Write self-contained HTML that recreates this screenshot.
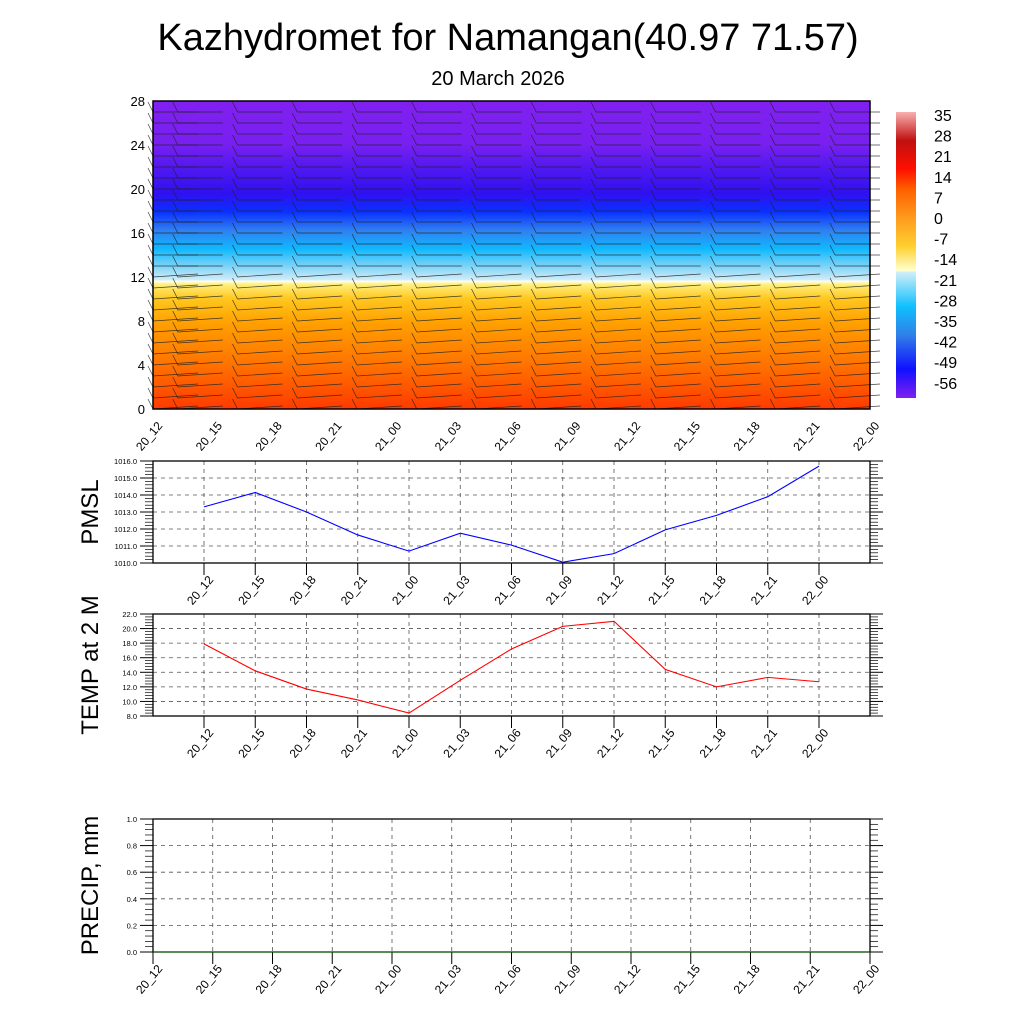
<!DOCTYPE html>
<html><head><meta charset="utf-8">
<style>
body{margin:0;background:#fff;}
svg{display:block;font-family:"Liberation Sans",sans-serif;}
</style></head>
<body>
<svg id="c" width="1024" height="1024" viewBox="0 0 1024 1024">
<defs>
<linearGradient id="tg" x1="0" y1="1" x2="0" y2="0">
<stop offset="0" stop-color="#ff3a00"/>
<stop offset="0.08" stop-color="#ff5a00"/>
<stop offset="0.16" stop-color="#ff7800"/>
<stop offset="0.28" stop-color="#ffa000"/>
<stop offset="0.36" stop-color="#ffc820"/>
<stop offset="0.405" stop-color="#fff080"/>
<stop offset="0.415" stop-color="#fffff0"/>
<stop offset="0.42" stop-color="#d0ecf8"/>
<stop offset="0.47" stop-color="#70d0f8"/>
<stop offset="0.52" stop-color="#10b8ff"/>
<stop offset="0.58" stop-color="#3080f0"/>
<stop offset="0.64" stop-color="#0a30ff"/>
<stop offset="0.70" stop-color="#3010f0"/>
<stop offset="0.78" stop-color="#5018f0"/>
<stop offset="0.86" stop-color="#7820f0"/>
<stop offset="1" stop-color="#8020f0"/>
</linearGradient>
<linearGradient id="cb" x1="0" y1="0" x2="0" y2="1">
<stop offset="0" stop-color="#f8b0b0"/>
<stop offset="0.1" stop-color="#c01010"/>
<stop offset="0.2" stop-color="#ff1000"/>
<stop offset="0.27" stop-color="#ff6000"/>
<stop offset="0.38" stop-color="#ffa020"/>
<stop offset="0.47" stop-color="#ffd030"/>
<stop offset="0.555" stop-color="#ffffd0"/>
<stop offset="0.56" stop-color="#d0eef8"/>
<stop offset="0.68" stop-color="#10c0ff"/>
<stop offset="0.78" stop-color="#3080e8"/>
<stop offset="0.9" stop-color="#1010ff"/>
<stop offset="1" stop-color="#8020f0"/>
</linearGradient>
</defs>
<text x="508" y="50" font-size="38" text-anchor="middle">Kazhydromet for Namangan(40.97 71.57)</text>
<text x="498" y="85" font-size="20" text-anchor="middle">20 March 2026</text>
<rect x="153" y="101" width="717" height="308" fill="url(#tg)"/>
<g id="barbs" stroke="#222" stroke-width="0.7" stroke-opacity="0.85"></g>
<rect x="153" y="101" width="717" height="308" fill="none" stroke="#000" stroke-width="1.5"/>
<rect x="896" y="112" width="20" height="286" fill="url(#cb)"/>
<g id="cbl" font-size="16"></g>
<g id="g"></g>
</svg>
<script>
const times=["20_12","20_15","20_18","20_21","21_00","21_03","21_06","21_09","21_12","21_15","21_18","21_21","22_00"];
const heightTicks=[0,4,8,12,16,20,24,28];
const colorbarLabels=["35","28","21","14","7","0","-7","-14","-21","-28","-35","-42","-49","-56"];
const pmsl=[1013.3,1014.15,1013.0,1011.65,1010.7,1011.75,1011.05,1010.05,1010.55,1011.95,1012.8,1013.9,1015.7];
const temp2m=[17.9,14.2,11.7,10.2,8.4,12.9,17.2,20.3,21.0,14.4,12.0,13.3,12.7];
const precip=[0,0,0,0,0,0,0,0,0,0,0,0,0];
const pmslTicks=[1010,1011,1012,1013,1014,1015,1016];
const tempTicks=[8,10,12,14,16,18,20,22];
const precipTicks=[0,0.2,0.4,0.6,0.8,1.0];
const windLevels=[0,1,2,3,4,5,6,7,8,9,10,11,12,13,14,15,16,17,18,19,20,21,22,23,24,25,26,27];

const NS="http://www.w3.org/2000/svg";
const G=document.getElementById('g');
function mk(tag,at,parent){const e=document.createElementNS(NS,tag);for(const k in at)e.setAttribute(k,at[k]);(parent||G).appendChild(e);return e;}
function txt(x,y,s,size,anchor,rot){const t=mk('text',{x:x,y:y,'font-size':size,'text-anchor':anchor||'middle'});if(rot)t.setAttribute('transform',`rotate(${rot} ${x} ${y})`);t.textContent=s;return t;}

const xs=i=>153+i*(717/12);
const ys=h=>409-h*(308/28);
heightTicks.forEach(h=>{const t=txt(145,ys(h)+5,String(h),13,'end');

});
times.forEach((s,i)=>{const x=xs(i);const t=txt(x+10,426,s,12,'end',-50);

});
const B=document.getElementById('barbs');
times.forEach((s,i)=>{const x=xs(i);windLevels.forEach(h=>{
 const y=ys(h);const x0=i?x-35:x;const x1=i?x+10:x+45;
 const l=mk('line',{x1:x0,y1:y,x2:x1,y2:y-(h>12?0:3)},B);
 
 
 const b=mk('line',{x1:x0,y1:y,x2:x0-5,y2:y-10},B);
 
 });});
const CL=document.getElementById('cbl');
colorbarLabels.forEach((s,i)=>{const t=mk('text',{x:934,y:121+i*20.6},CL);t.textContent=s;

});

function panel(name,top,bot,ticks,vals,color,ytitle,xf,n,labY,fmt){
 const lo=ticks[0],hi=ticks[ticks.length-1];
 const y=v=>bot-(v-lo)/(hi-lo)*(bot-top);
 const g=mk('g',{});
 ticks.forEach(v=>{mk('line',{x1:153,x2:870,y1:y(v),y2:y(v),stroke:'#555','stroke-dasharray':'4 4','stroke-width':0.8},g);
  const t=mk('text',{x:137,y:y(v)+3,'font-size':7.5,'text-anchor':'end'},g);t.textContent=fmt(v);
  
  mk('line',{x1:140,x2:153,y1:y(v),y2:y(v),stroke:'#000'},g);mk('line',{x1:870,x2:883,y1:y(v),y2:y(v),stroke:'#000'},g);});
 for(let k=0;k<(ticks.length-1)*5;k++){const v=lo+k*(hi-lo)/((ticks.length-1)*5);if(k%5)
  {mk('line',{x1:145,x2:153,y1:y(v),y2:y(v),stroke:'#000','stroke-width':0.7},g);mk('line',{x1:870,x2:878,y1:y(v),y2:y(v),stroke:'#000','stroke-width':0.7},g);}}
 for(let i=0;i<n;i++){const x=xf(i);mk('line',{x1:x,x2:x,y1:top,y2:bot,stroke:'#555','stroke-dasharray':'4 4','stroke-width':0.8},g);
  mk('line',{x1:x,x2:x,y1:bot,y2:bot+12,stroke:'#000'},g);
  const t=mk('text',{x:x+10,y:labY,'font-size':12,'text-anchor':'end',transform:`rotate(-50 ${x+10} ${labY})`},g);t.textContent=times[i];
  }
 mk('rect',{x:153,y:top,width:717,height:bot-top,fill:'none',stroke:'#000','stroke-width':1.3},g);
 const p=mk('polyline',{points:vals.map((v,i)=>`${xf(i)},${y(v)}`).join(' '),fill:'none',stroke:color,'stroke-width':1.1},g);
 
 const tt=mk('text',{x:98,y:(top+bot)/2,'font-size':24,'text-anchor':'middle',transform:`rotate(-90 98 ${(top+bot)/2})`},g);tt.textContent=ytitle;
 
}
const xl=i=>204+i*51.25;
panel('pmsl',461,563,pmslTicks,pmsl,'#0000ff','PMSL',xl,13,580,v=>v.toFixed(1));
panel('temp',614,716,tempTicks,temp2m,'#ff0000','TEMP at 2 M',xl,13,733,v=>v.toFixed(1));
panel('precip',819,952,precipTicks,precip,'#006400','PRECIP, mm',xs,13,969,v=>v.toFixed(1));
</script>
</body></html>
